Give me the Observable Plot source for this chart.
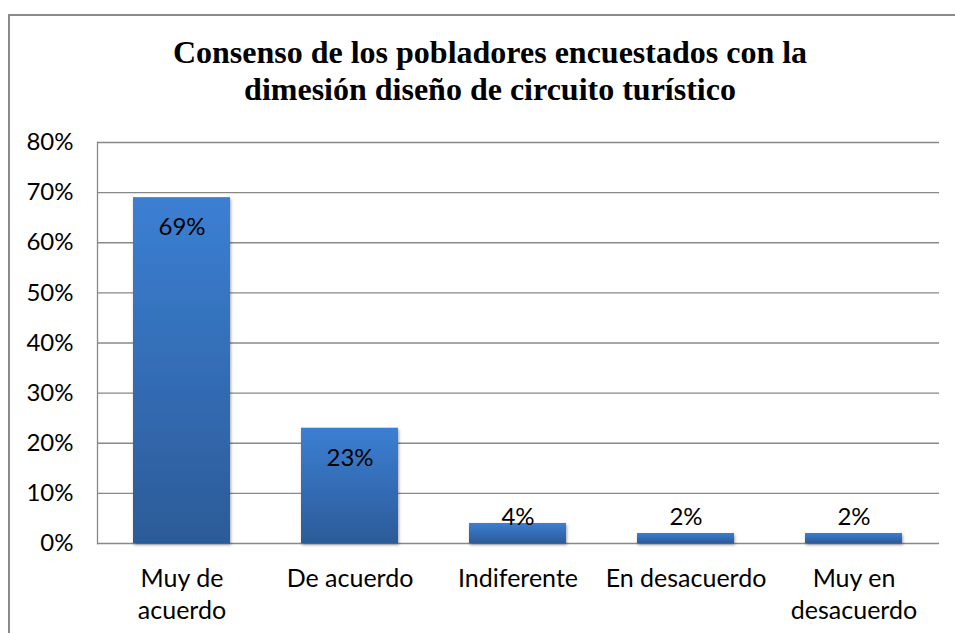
<!DOCTYPE html>
<html>
<head>
<meta charset="utf-8">
<script src="https://cdn.jsdelivr.net/npm/d3@7"></script>
<script src="https://cdn.jsdelivr.net/npm/@observablehq/plot@0.6"></script>
<style>
  html, body { margin: 0; padding: 0; background: #fff; }
  #wrap { position: relative; width: 955px; height: 633px; overflow: hidden; background: #fff; }
  #border { position: absolute; left: 8px; top: 14px; width: 1000px; height: 700px;
            border-left: 2px solid #8a8a8a; border-top: 2px solid #8a8a8a; box-sizing: border-box; }
  #title { position: relative; height: 120px; box-sizing: border-box; padding-top: 34px; padding-left: 25px;
           text-align: center; font-family: "Liberation Serif", "Times New Roman", serif; font-weight: bold;
           font-size: 32px; line-height: 37px; color: #000; }
  #chart { position: relative; }
</style>
</head>
<body>
<div id="wrap">
  <div id="border"></div>
  <div id="title">Consenso de los pobladores encuestados con la<br>dimesión diseño de circuito turístico</div>
  <div id="chart"></div>
</div>
<script>
const categories = ["Muy de acuerdo", "De acuerdo", "Indiferente", "En desacuerdo", "Muy en desacuerdo"];
const tickLabels = ["Muy de\nacuerdo", "De acuerdo", "Indiferente", "En desacuerdo", "Muy en\ndesacuerdo"];
const values = [0.69, 0.23, 0.04, 0.02, 0.02];
const yTicks = [0, 0.1, 0.2, 0.3, 0.4, 0.5, 0.6, 0.7, 0.8];

const data = categories.map((c, i) => ({cat: c, v: values[i]}));
const labelOf = new Map(categories.map((c, i) => [c, tickLabels[i]]));

const defs = () => {
  const d = d3.create("svg:defs");
  const g = d.append("linearGradient").attr("id", "barGrad").attr("x1", 0).attr("y1", 0).attr("x2", 0).attr("y2", 1);
  g.append("stop").attr("offset", "0%").attr("stop-color", "#3b7fd3");
  g.append("stop").attr("offset", "100%").attr("stop-color", "#2c5b98");
  const f = d.append("filter").attr("id", "shadow").attr("x", "-10%").attr("y", "-10%").attr("width", "130%").attr("height", "140%");
  f.append("feDropShadow").attr("dx", 1).attr("dy", 2).attr("stdDeviation", 1.5).attr("flood-color", "#000").attr("flood-opacity", 0.35);
  return d.node();
};

const font = "Lato, 'Liberation Sans', sans-serif";

const chart = Plot.plot({
  width: 955,
  height: 513,
  marginTop: 22,
  marginBottom: 90,
  marginLeft: 97,
  marginRight: 16,
  style: {fontFamily: font, fontSize: "24px", color: "#000", background: "transparent"},
  x: {domain: categories, paddingInner: 0.42, paddingOuter: 0.21, label: null},
  y: {domain: [0, 0.8], label: null},
  marks: [
    defs,
    Plot.gridY(yTicks, {stroke: "#888", strokeOpacity: 1, strokeWidth: 1.3}),
    Plot.frame({anchor: "left", stroke: "#888", strokeWidth: 1.3}),
    Plot.barY(data, {x: "cat", y: "v", fill: "url(#barGrad)"}),
    Plot.text(data, {x: "cat", y: d => Math.max(d.v - 0.06, 0.053), text: d => Math.round(d.v * 100) + "%",
      fill: "#000", fontSize: 24}),
    Plot.axisY(yTicks, {tickSize: 0, tickPadding: 24, tickFormat: d => Math.round(d * 100) + "%", fontSize: 24, fill: "#000"}),
    Plot.axisX({tickSize: 0, tickPadding: 21, tickFormat: d => labelOf.get(d), lineHeight: 1.28, fontSize: 25, fill: "#000"})
  ]
});
chart.querySelectorAll("g[fill='url(#barGrad)']").forEach(g => g.setAttribute("filter", "url(#shadow)"));
document.getElementById("chart").appendChild(chart);
</script>
</body>
</html>
